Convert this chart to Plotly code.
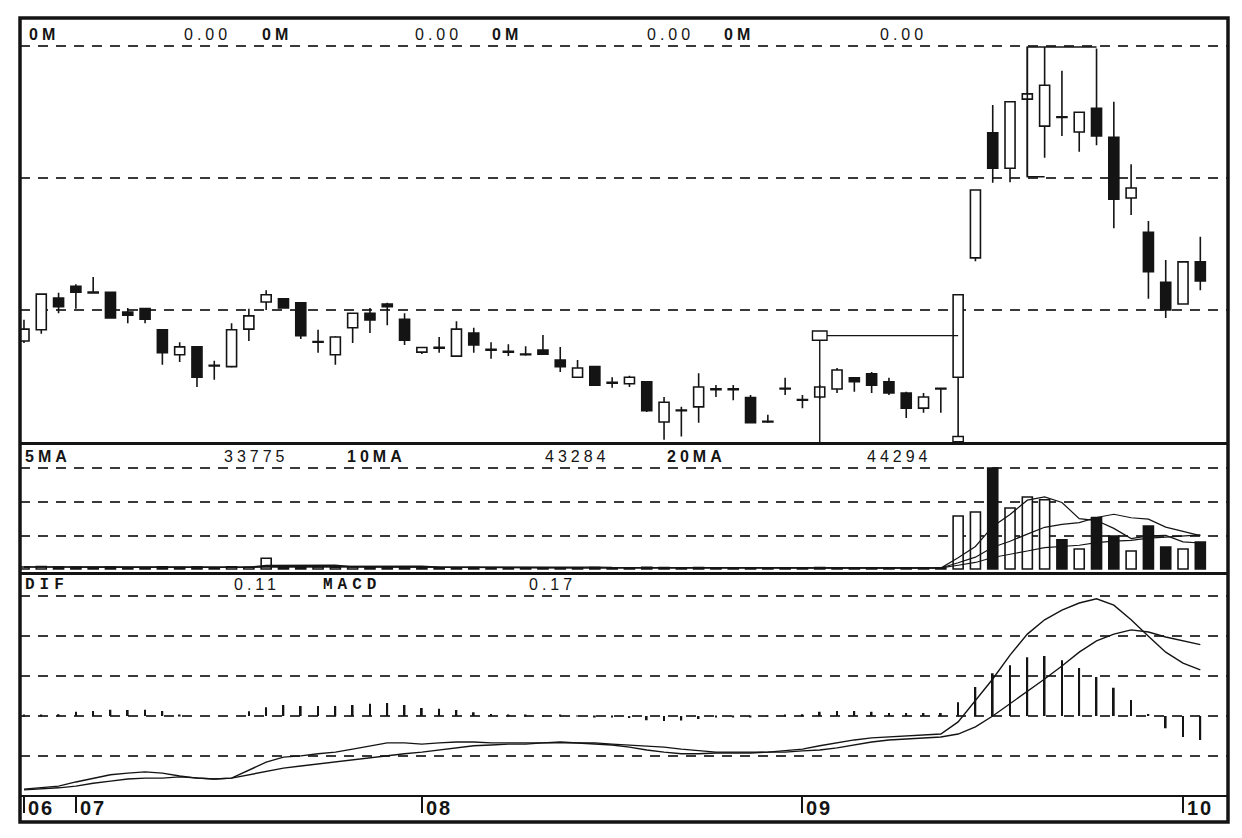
import plotly.graph_objects as go
import pandas as pd

# ---------------- data ----------------
idx = list(range(69))
opens = [7.53, 7.70, 8.18, 8.36, 8.26, 8.27, 7.97, 8.02, 7.70, 7.32,
         7.44, 7.15, 7.14, 7.71, 8.12, 8.17, 8.11, 7.51, 7.32, 7.73,
         7.95, 8.09, 7.86, 7.36, 7.42, 7.30, 7.65, 7.39, 7.36, 7.32,
         7.39, 7.24, 6.98, 7.14, 6.89, 6.88, 6.91, 6.30, 6.47, 6.53,
         6.79, 6.79, 6.67, 6.30, 6.80, 6.63, 6.68, 6.80, 6.97, 7.03,
         6.91, 6.74, 6.51, 6.80, 6.98, 8.79, 10.69, 10.15, 11.20, 10.79,
         10.93, 10.70, 11.06, 10.62, 9.70, 9.18, 8.42, 8.09, 8.73]
highs = [7.85, 8.24, 8.26, 8.39, 8.50, 8.27, 8.03, 8.03, 7.71, 7.51,
         7.45, 7.23, 7.80, 8.02, 8.30, 8.18, 8.12, 7.70, 7.60, 7.95,
         8.03, 8.11, 7.95, 7.44, 7.59, 7.83, 7.73, 7.51, 7.48, 7.45,
         7.62, 7.44, 7.24, 7.15, 6.98, 7.00, 6.92, 6.68, 6.53, 7.04,
         6.86, 6.86, 6.71, 6.41, 6.97, 6.71, 6.86, 7.12, 6.98, 7.06,
         6.97, 6.76, 6.74, 6.81, 8.23, 9.82, 11.11, 11.16, 11.99, 11.99,
         11.63, 11.00, 11.97, 11.16, 10.21, 9.35, 8.76, 8.74, 9.11]
lows = [7.50, 7.64, 7.95, 8.02, 8.26, 7.88, 7.80, 7.80, 7.17, 7.21,
        6.83, 6.94, 7.13, 7.53, 8.00, 8.03, 7.56, 7.35, 7.17, 7.50,
        7.65, 7.77, 7.47, 7.33, 7.35, 7.29, 7.35, 7.26, 7.30, 7.31,
        7.33, 7.06, 6.97, 6.85, 6.82, 6.83, 6.45, 6.03, 6.08, 6.29,
        6.68, 6.63, 6.29, 6.29, 6.71, 6.51, 6.65, 6.74, 6.76, 6.74,
        6.71, 6.36, 6.44, 6.44, 6.07, 8.74, 9.93, 9.94, 10.02, 10.31,
        10.64, 10.40, 10.50, 9.24, 9.44, 8.17, 7.88, 8.09, 8.30]
closes = [7.71, 8.24, 8.05, 8.27, 8.26, 7.88, 7.92, 7.86, 7.35, 7.44,
          6.98, 7.15, 7.70, 7.91, 8.23, 8.03, 7.61, 7.51, 7.59, 7.95,
          7.85, 8.05, 7.54, 7.43, 7.42, 7.71, 7.47, 7.39, 7.36, 7.32,
          7.33, 7.14, 7.12, 6.86, 6.89, 6.98, 6.47, 6.60, 6.47, 6.83,
          6.79, 6.79, 6.29, 6.30, 6.80, 6.63, 6.83, 7.09, 6.91, 6.86,
          6.74, 6.51, 6.68, 6.80, 8.23, 9.82, 10.15, 11.16, 11.28, 11.41,
          10.92, 11.00, 10.64, 9.68, 9.85, 8.58, 8.00, 8.73, 8.44]
volumes = [2600, 3100, 2500, 2200, 1800, 2400, 1500, 1700, 2900, 2000,
           2600, 1500, 2800, 2300, 14000, 3400, 3000, 2600, 2200, 2700,
           2400, 2100, 2500, 1900, 1600, 1400, 1800, 1500, 1300, 1200,
           1400, 1700, 1500, 1900, 1400, 1300, 2200, 2000, 1600, 1800,
           1400, 1200, 1600, 1300, 1500, 1100, 1800, 1600, 1400, 1200,
           1100, 1300, 1200, 1100, 68900, 74100, 131300, 79300, 93600, 90000,
           38000, 26000, 67000, 42900, 23400, 55900, 28600, 26000, 34975]
dif = [-0.174, -0.171, -0.167, -0.157, -0.148, -0.140, -0.136, -0.133, -0.136, -0.143,
       -0.148, -0.150, -0.148, -0.129, -0.110, -0.098, -0.095, -0.090, -0.086, -0.079,
       -0.071, -0.064, -0.064, -0.067, -0.064, -0.062, -0.062, -0.064, -0.064, -0.064,
       -0.064, -0.062, -0.064, -0.067, -0.069, -0.074, -0.081, -0.086, -0.090, -0.090,
       -0.088, -0.088, -0.088, -0.086, -0.083, -0.079, -0.071, -0.064, -0.057, -0.052,
       -0.050, -0.048, -0.045, -0.043, -0.014, 0.038, 0.088, 0.145, 0.195, 0.229,
       0.252, 0.269, 0.279, 0.264, 0.229, 0.190, 0.152, 0.126, 0.110]
dea = [-0.176, -0.174, -0.171, -0.167, -0.160, -0.155, -0.150, -0.148, -0.148, -0.145,
       -0.148, -0.150, -0.148, -0.140, -0.131, -0.124, -0.119, -0.114, -0.110, -0.105,
       -0.100, -0.095, -0.090, -0.086, -0.081, -0.076, -0.071, -0.069, -0.067, -0.067,
       -0.064, -0.064, -0.064, -0.064, -0.067, -0.069, -0.071, -0.074, -0.079, -0.083,
       -0.086, -0.086, -0.086, -0.086, -0.086, -0.083, -0.081, -0.076, -0.069, -0.062,
       -0.057, -0.055, -0.052, -0.050, -0.043, -0.026, 0.000, 0.029, 0.057, 0.088,
       0.119, 0.152, 0.179, 0.195, 0.205, 0.200, 0.188, 0.179, 0.170]
macd_hist = [0.002, 0.003, 0.004, 0.010, 0.012, 0.015, 0.014, 0.015, 0.012, 0.002,
             0.000, 0.000, 0.000, 0.011, 0.021, 0.026, 0.024, 0.024, 0.024, 0.026,
             0.029, 0.031, 0.026, 0.019, 0.017, 0.014, 0.009, 0.005, 0.003, 0.003,
             0.001, 0.002, 0.001, -0.003, -0.002, -0.005, -0.010, -0.012, -0.011, -0.007,
             -0.002, -0.002, -0.002, 0.001, 0.003, 0.004, 0.010, 0.012, 0.012, 0.010,
             0.007, 0.007, 0.007, 0.007, 0.033, 0.069, 0.102, 0.121, 0.140, 0.143,
             0.133, 0.114, 0.093, 0.067, 0.038, 0.005, -0.029, -0.050, -0.057]
month_idx = [0, 3, 23, 45, 67]
month_labels = ["06", "07", "08", "09", "10"]
price_header = ["0M", "0.00", "0M", "0.00", "0M", "0.00", "0M", "0.00"]
vol_header = ["5MA", "33775", "10MA", "43284", "20MA", "44294"]
macd_header = ["DIF", "0.11", "MACD", "0.17"]
box_idx = [46, 54]          # range-box drawn on the price panel
box_price = [7.61, 6.04]
peak_idx = [58, 62]         # high/low bracket

# ---------------- styling / layout constants ----------------
INK = "#141414"
GRID = "#3a3a3a"
DASH = "10px,8px"
main_rng = [5.974, 12.431]
vol_rng = [-5850, 163150]
macd_rng = [-0.1881, 0.3393]
x_rng = [-0.23, 69.6]
dom_main = [0.4708, 1.0]
dom_vol = [0.3091, 0.4708]
dom_macd = [0.03358, 0.3091]

fig = go.Figure()

# ---- price panel: wicks + bodies ----
wx, wy = [], []
for i, o, h, l, c in zip(idx, opens, highs, lows, closes):
    top, bot = max(o, c), min(o, c)
    if h > top:
        wx += [i, i, None]; wy += [top, h, None]
    if l < bot:
        wx += [i, i, None]; wy += [bot, l, None]
fig.add_trace(go.Scatter(x=wx, y=wy, mode="lines", line=dict(color=INK, width=1.6),
                         xaxis="x", yaxis="y", hoverinfo="skip"))
up = [c >= o for o, c in zip(opens, closes)]
fills = ["white" if u else INK for u in up]
body_base = [min(o, c) for o, c in zip(opens, closes)]
body_h = [max(abs(c - o), 0.012) for o, c in zip(opens, closes)]
fig.add_trace(go.Bar(x=idx, y=body_h, base=body_base, width=0.58,
                     marker=dict(color=fills, line=dict(color=INK, width=1.6)),
                     xaxis="x", yaxis="y"))

# range box & peak bracket
fig.add_trace(go.Scatter(x=[box_idx[0], box_idx[0], box_idx[1]],
                         y=[main_rng[0], box_price[0], box_price[0]],
                         mode="lines", line=dict(color=INK, width=1.4),
                         xaxis="x", yaxis="y", hoverinfo="skip"))
p0, p1 = peak_idx
fig.add_trace(go.Scatter(x=[p1, p0, p0, p0 + 1.0],
                         y=[highs[p0], highs[p0], lows[p0], lows[p0]],
                         mode="lines", line=dict(color=INK, width=1.5),
                         xaxis="x", yaxis="y", hoverinfo="skip"))

# ---- volume panel ----
fig.add_trace(go.Bar(x=idx, y=volumes, width=0.58,
                     marker=dict(color=fills, line=dict(color=INK, width=1.6)),
                     xaxis="x2", yaxis="y2"))
vs = pd.Series(volumes, dtype=float)
for n in (5, 10, 20):
    fig.add_trace(go.Scatter(x=idx, y=vs.rolling(n, min_periods=1).mean(), mode="lines",
                             line=dict(color=INK, width=1.2), xaxis="x2", yaxis="y2",
                             hoverinfo="skip"))

# ---- MACD panel ----
fig.add_trace(go.Bar(x=idx, y=macd_hist, width=0.1, marker=dict(color=INK, line=dict(width=0)),
                     xaxis="x3", yaxis="y3"))
fig.add_trace(go.Scatter(x=idx, y=dif, mode="lines", line=dict(color=INK, width=1.4),
                         xaxis="x3", yaxis="y3"))
fig.add_trace(go.Scatter(x=idx, y=dea, mode="lines", line=dict(color=INK, width=1.4),
                         xaxis="x3", yaxis="y3"))

# ---------------- layout ----------------
def yax(dom, rng, tv):
    return dict(domain=dom, range=rng, tickvals=tv, showgrid=True, gridcolor=GRID,
                gridwidth=1.6, griddash=DASH, showticklabels=False, ticks="",
                zeroline=False, showline=False, fixedrange=True)

xbase = dict(domain=[0, 1], range=x_rng, showgrid=False, zeroline=False,
             showticklabels=False, fixedrange=True)

shapes = [
    dict(type="rect", xref="paper", yref="paper", x0=0, x1=1, y0=0, y1=1,
         line=dict(color=INK, width=3.5)),
    dict(type="line", xref="paper", yref="paper", x0=0, x1=1, y0=dom_main[0], y1=dom_main[0],
         line=dict(color=INK, width=3)),
    dict(type="line", xref="paper", yref="paper", x0=0, x1=1, y0=dom_vol[0], y1=dom_vol[0],
         line=dict(color=INK, width=3)),
    # corner markers of the range box
    dict(type="rect", xref="x", yref="y", x0=box_idx[0] - 0.42, x1=box_idx[0] + 0.42,
         y0=box_price[0] - 0.07, y1=box_price[0] + 0.07, line=dict(color=INK, width=1.4),
         fillcolor="white"),
    dict(type="rect", xref="x", yref="y", x0=box_idx[1] - 0.3, x1=box_idx[1] + 0.3,
         y0=box_price[1] - 0.04, y1=box_price[1] + 0.04, line=dict(color=INK, width=1.4),
         fillcolor="white"),
]

def spaced(t, sp, bold=False):
    s = f'<span style="letter-spacing:{sp}px">{t}</span>'
    return f"<b>{s}</b>" if bold else s

ann = []
sans = "Liberation Sans, Arial, sans-serif"
mono = "Liberation Mono, Courier New, monospace"
main_x = [0.0058, 0.1341, 0.1987, 0.3253, 0.3891, 0.5174, 0.5811, 0.7103]
for t, x in zip(price_header, main_x):
    ann.append(dict(text=spaced(t, 4, bold=(t == "0M")), x=x, y=0.9789, xref="paper", yref="paper",
                    xanchor="left", yanchor="middle", showarrow=False,
                    font=dict(family=sans, size=16, color=INK)))
vol_x = [0.0025, 0.1672, 0.2690, 0.4329, 0.5339, 0.6995]
for t, x in zip(vol_header, vol_x):
    ann.append(dict(text=spaced(t, 4, bold=t.endswith("MA")), x=x, y=0.4540, xref="paper", yref="paper",
                    xanchor="left", yanchor="middle", showarrow=False,
                    font=dict(family=sans, size=16, color=INK)))
macd_x = [0.0025, 0.1755, 0.2492, 0.4197]
for t, x in zip(macd_header, macd_x):
    is_word = t.isalpha()
    ann.append(dict(text=spaced(t, 5 if is_word else 4, bold=is_word), x=x, y=0.2948,
                    xref="paper", yref="paper", xanchor="left", yanchor="middle", showarrow=False,
                    font=dict(family=mono if is_word else sans, size=16, color=INK)))
for t, x in zip(month_labels, month_idx):
    ann.append(dict(text=spaced(t, 2, bold=True), x=x, y=0.0168, xref="x3", yref="paper",
                    xanchor="left", yanchor="middle", xshift=2, showarrow=False,
                    font=dict(family=sans, size=20, color=INK)))

fig.update_layout(
    width=1226, height=822,
    margin=dict(l=12, r=6, t=10, b=8),
    paper_bgcolor="white", plot_bgcolor="white",
    showlegend=False, barmode="overlay", hovermode=False,
    xaxis=dict(xbase, anchor="y"),
    xaxis2=dict(xbase, anchor="y2", matches="x"),
    xaxis3=dict(xbase, anchor="y3", matches="x", ticks="outside", tickvals=month_idx,
                ticklen=16, tickwidth=1.5, tickcolor=INK, showline=True,
                linecolor=INK, linewidth=1.5),
    yaxis=yax(dom_main, main_rng, [8, 10, 12]),
    yaxis2=yax(dom_vol, vol_rng, [42900, 87100, 131300]),
    yaxis3=yax(dom_macd, macd_rng, [-0.095, 0, 0.095, 0.19, 0.285]),
    shapes=shapes,
    annotations=ann,
)

fig.write_html("out.html")
